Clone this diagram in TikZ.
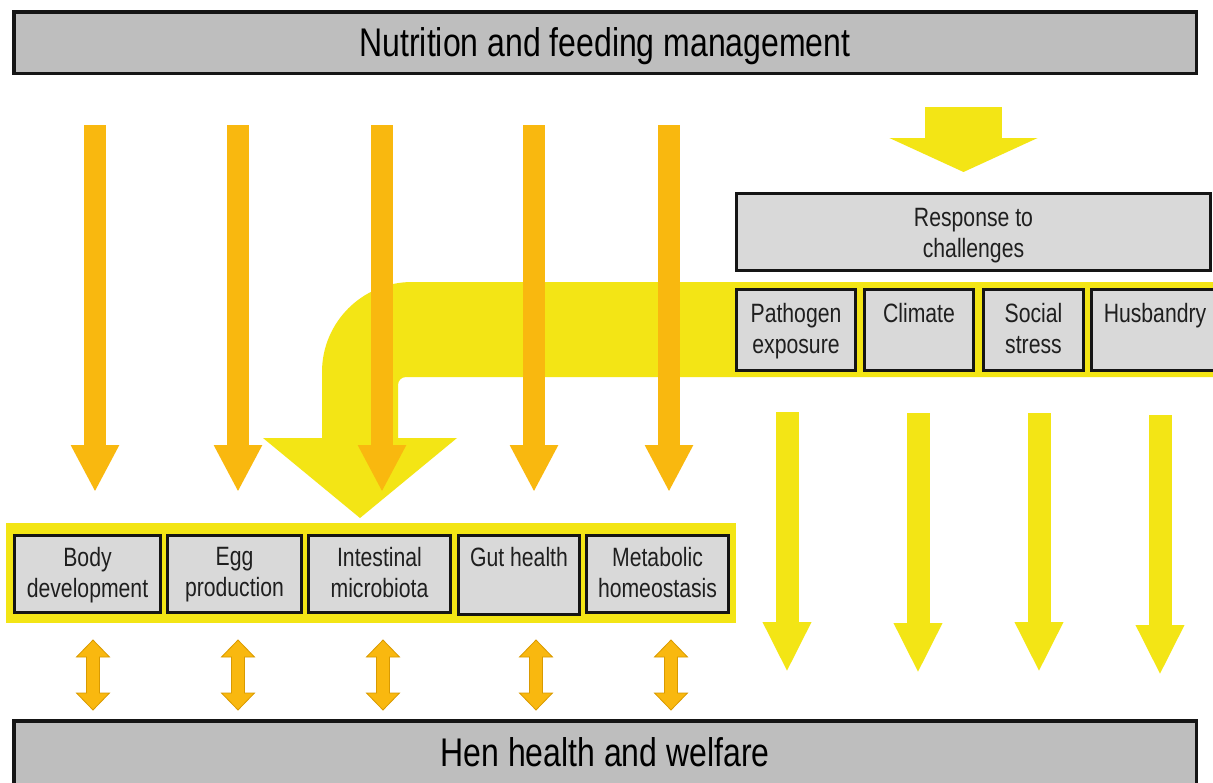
\documentclass[tikz,border=0pt]{standalone}
\usepackage{fontspec}
\setmainfont[FakeStretch=0.8]{Liberation Sans}
\usetikzlibrary{arrows.meta}

\definecolor{barfill}{HTML}{BEBEBE}
\definecolor{cellfill}{HTML}{D9D9D9}
\definecolor{edge}{HTML}{151515}
\definecolor{amber}{HTML}{F9B80F}
\definecolor{amberline}{HTML}{D99A00}
\definecolor{lemon}{HTML}{F3E515}

\newcommand\titlefont{\fontsize{40}{48}\selectfont}
\newcommand\cellfont{\fontsize{26.5}{31}\selectfont}

\begin{document}
\begin{tikzpicture}[x=1pt,y=-1pt,
  bar/.style={draw=edge, fill=barfill, line width=3.5pt, outer sep=1.75pt,
    inner sep=0pt, font=\titlefont, text height=28.6pt, text depth=0pt,
    anchor=north west},
  cell/.style={draw=edge, fill=cellfill, line width=3pt, outer sep=1.5pt,
    inner sep=0pt, anchor=north west},
  ctext/.style={anchor=north, yshift=#1, align=center, font=\cellfont,
    inner sep=0pt, text=black!88},
  ctext/.default=-13pt,
  oarrow/.style={draw=amber, line width=22pt, -{Triangle[width=45pt,length=47pt]}},
  yarrow/.style={draw=lemon, line width=23pt, -{Triangle[width=45pt,length=50pt]}},
  updown/.pic={
    \filldraw[fill=amber, draw=amberline, line width=0.8pt]
      (0,-35) -- (16.5,-18) -- (6.5,-18) -- (6.5,18) -- (16.5,18) -- (0,35)
      -- (-16.5,18) -- (-6.5,18) -- (-6.5,-18) -- (-16.5,-18) -- cycle;
  },
]
\useasboundingbox (0,0) rectangle (1213,782);
\fill[white] (0,0) rectangle (1213,782);

% title bars
\node[bar, minimum width=1182.5pt, minimum height=61.5pt] (nutri) at (12,10)
  {Nutrition and feeding management};
\node[bar, minimum width=1182.5pt, minimum height=63.5pt] (hen) at (12,719)
  {Hen health and welfare};

% yellow band behind the outcome row
\fill[lemon] (6,523) rectangle (736,623);

% bent arrow carrying the challenges back to the outcome row
\fill[lemon] (1220,282) -- (412,282) arc[start angle=90, end angle=180, radius=90pt]
  -- (322,438) -- (263,438) -- (360,518) -- (457,438) -- (398,438) -- (398,385)
  arc[start angle=180, end angle=90, radius=8pt] -- (1220,377) -- cycle;

% arrow into the challenge block
\coordinate (ts) at (963.5,107);
\coordinate (te) at (963.5,172);
\draw[draw=lemon, line width=77pt, -{Triangle[width=147pt,length=34pt]}] (ts) -- (te);

% challenge block
\node[cell, minimum width=474pt, minimum height=77pt,
  label={[ctext=-16pt]north:{Response to\\challenges}}] (resp) at (735,192) {};
\node[cell, minimum width=119pt, minimum height=81pt,
  label={[ctext=-15pt]north:{Pathogen\\exposure}}] (patho) at (735,288) {};
\node[cell, minimum width=109pt, minimum height=81pt,
  label={[ctext=-15pt]north:{Climate}}] (clim) at (863,288) {};
\node[cell, minimum width=100pt, minimum height=81pt,
  label={[ctext=-15pt]north:{Social\\stress}}] (social) at (982,288) {};
\node[cell, minimum width=127pt, minimum height=81pt,
  label={[ctext=-15pt]north:{Husbandry}}] (husb) at (1090,288) {};

% outcome row
\node[cell, minimum width=146pt, minimum height=77pt,
  label={[ctext]north:{Body\\development}}] (body) at (13,534) {};
\node[cell, minimum width=134pt, minimum height=77pt,
  label={[ctext]north:{Egg\\production}}] (egg) at (166,534) {};
\node[cell, minimum width=142pt, minimum height=77pt,
  label={[ctext]north:{Intestinal\\microbiota}}] (micro) at (307,534) {};
\node[cell, minimum width=121pt, minimum height=79pt,
  label={[ctext]north:{Gut health}}] (gut) at (457,534) {};
\node[cell, minimum width=142pt, minimum height=77pt,
  label={[ctext]north:{Metabolic\\homeostasis}}] (meta) at (585,534) {};

% nutrition acting on each outcome
\foreach \n/\x in {1/95,2/238,3/382,4/534,5/669}{
  \coordinate (os\n) at (\x,125);
  \coordinate (oe\n) at (\x,492);
  \draw[oarrow] (os\n) -- (oe\n);
}

% challenges acting on hen health
\foreach \n/\x/\a/\b in {1/787/412/672,2/918/413/673,3/1039/413/672,4/1160/415/675}{
  \coordinate (ys\n) at (\x,\a);
  \coordinate (ye\n) at (\x,\b);
  \draw[yarrow] (ys\n) -- (ye\n);
}

% two-way links between outcomes and hen health
\foreach \n/\x in {1/93,2/238,3/383,4/536,5/671}{
  \coordinate (d\n) at (\x,675);
  \pic at (d\n) {updown};
}
\end{tikzpicture}
\end{document}
